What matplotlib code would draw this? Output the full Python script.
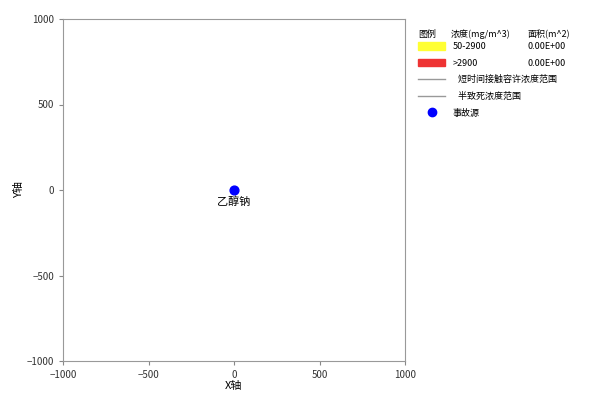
import matplotlib
matplotlib.use("Agg")
import matplotlib.pyplot as plt
from matplotlib.patches import Patch
from matplotlib.lines import Line2D

plt.rcParams['font.family'] = ['Noto Sans CJK SC', 'DejaVu Sans']

# Accident source
source_name = "乙醇钠"
source_x = [0]
source_y = [0]

# Concentration bands and affected areas
band_labels = ["50-2900", ">2900"]
band_colors = ["#ffff33", "#ee3333"]
band_areas = [0.0, 0.0]

line_labels = ["短时间接触容许浓度范围", "半致死浓度范围"]
header_labels = ["图例", "浓度(mg/m^3)", "面积(m^2)"]

xlim = [-1000, 1000]
ylim = [-1000, 1000]
ticks = [-1000, -500, 0, 500, 1000]

W, H = 589, 405
fig = plt.figure(figsize=(W / 100, H / 100), dpi=100)
ax = fig.add_axes([63 / W, 1 - 361 / H, 342 / W, 342 / H])

ax.scatter(source_x, source_y, s=40, color="blue", zorder=3)
ax.annotate(source_name, (source_x[0], source_y[0]), xytext=(0, -5),
            textcoords="offset points", ha="center", va="top", fontsize=8)

ax.set_xlim(xlim)
ax.set_ylim(ylim)
ax.set_xticks(ticks)
ax.set_yticks(ticks)
ax.tick_params(labelsize=7, length=3, color="#888888", labelcolor="#333333")
for s in ax.spines.values():
    s.set_color("#999999")
ax.set_xlabel("X轴", fontsize=8, labelpad=1)
ax.set_ylabel("Y轴", fontsize=8, labelpad=2)

handles = [Patch(facecolor=c, edgecolor=c) for c in band_colors]
labels = list(band_labels)
handles += [Line2D([0], [0], color="#999999", lw=1) for _ in line_labels]
labels += ["   " + l for l in line_labels]
handles.append(Line2D([0], [0], marker="o", color="blue", lw=0, markersize=6))
labels.append("事故源")

leg = ax.legend(handles, labels, loc="upper left",
                bbox_to_anchor=(418 / W, 1 - 42 / H), bbox_transform=fig.transFigure,
                frameon=False, fontsize=6.5, handlelength=3.0,
                handleheight=0.9, labelspacing=0.84, borderaxespad=0.0,
                borderpad=0.0, handletextpad=0.8)

# Header row and area values aligned with the legend rows
fig.canvas.draw()
inv = fig.transFigure.inverted()
for x, t in zip([418, 451, 527], header_labels):
    fig.text(x / W, 1 - 37 / H, t, fontsize=6.5, va="baseline")
for txt, area in zip(leg.get_texts()[:len(band_areas)], band_areas):
    bb = txt.get_window_extent()
    y = inv.transform((0, (bb.y0 + bb.y1) / 2))[1]
    fig.text(527 / W, y, f"{area:.2E}", fontsize=6.5, va="center")

fig.savefig("out.png", dpi=100)
